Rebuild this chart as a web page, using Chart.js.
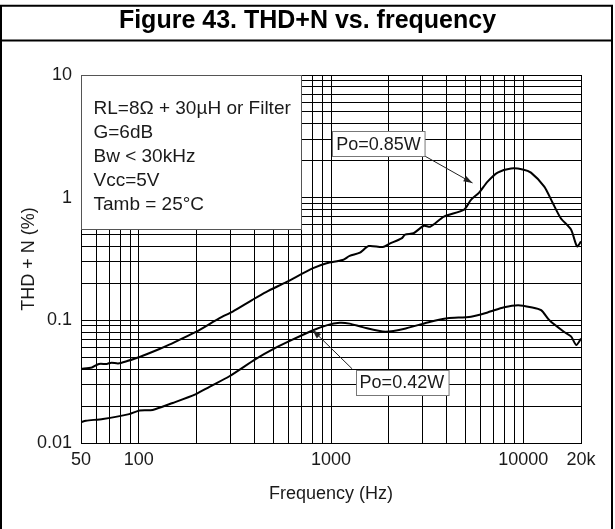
<!DOCTYPE html>
<html>
<head>
<meta charset="utf-8">
<script src="https://cdn.jsdelivr.net/npm/chart.js@4.4.0/dist/chart.umd.min.js"></script>
<style>
  html, body { margin: 0; padding: 0; background: #fff; }
  #wrap { width: 615px; height: 529px; }
</style>
</head>
<body>
<div id="wrap"><canvas id="chart" width="615" height="529"></canvas></div>
<script>
// Po = 0.85W curve
const freqHi = [50, 57, 62, 68, 72, 78, 87, 101, 128, 144, 197, 263, 308, 390, 459, 585, 807, 948,
  1150, 1250, 1415, 1570, 1860, 2020, 2330, 2430, 2690, 3040, 3290, 3870, 4930, 5350, 5900, 6530,
  7360, 8650, 9950, 10980, 12880, 14230, 15700, 17740, 19080, 20000];
const thdHi = [0.0402, 0.0413, 0.0441, 0.0441, 0.0452, 0.0445, 0.0466, 0.0503, 0.0584, 0.0634, 0.080,
  0.104, 0.118, 0.147, 0.170, 0.205, 0.266, 0.292, 0.31, 0.335, 0.356, 0.403, 0.396, 0.422, 0.465,
  0.50, 0.513, 0.59, 0.58, 0.70, 0.80, 0.96, 1.10, 1.35, 1.60, 1.73, 1.70, 1.60, 1.23, 0.91, 0.68,
  0.55, 0.40, 0.44];

// Po = 0.42W curve
const freqLo = [50, 53, 65, 89, 101, 118, 150, 197, 233, 296, 405, 497, 630, 807, 948, 1110, 1250,
  1460, 1920, 2470, 3290, 4040, 5350, 6530, 7960, 9420, 10980, 12400, 13700, 16230, 17740, 18900, 20000];
const thdLo = [0.0148, 0.0152, 0.0157, 0.0172, 0.0184, 0.0186, 0.0212, 0.0249, 0.0287, 0.035, 0.0483,
  0.058, 0.0695, 0.083, 0.091, 0.0955, 0.094, 0.088, 0.0808, 0.0862, 0.0975, 0.104, 0.107, 0.116,
  0.128, 0.133, 0.128, 0.121, 0.100, 0.081, 0.074, 0.063, 0.071];

const xTickValues = [50, 100, 1000, 10000, 20000];
const xTickLabels = ['50', '100', '1000', '10000', '20k'];
const yTickValues = [0.01, 0.1, 1, 10];
const yTickLabels = ['0.01', '0.1', '1', '10'];

const conditions = ['RL=8\u03A9 + 30\u00B5H or Filter', 'G=6dB', 'Bw < 30kHz', 'Vcc=5V', 'Tamb = 25\u00B0C'];

// minor log grid lines
function logGrid(from, to) {
  const out = [];
  for (let d = from; d < to * 0.999; d *= 10) {
    for (let k = 1; k < 10; k++) out.push(+(k * d).toPrecision(6));
  }
  out.push(to);
  return out;
}
const xGrid = logGrid(10, 10000).filter(v => v >= 50).concat([20000]).filter((v, i, a) => a.indexOf(v) === i);
const yGrid = logGrid(0.01, 10);

function pick(values, labels) {
  return v => {
    const i = values.findIndex(t => Math.abs(t - v) / t < 1e-6);
    return i < 0 ? '' : labels[i];
  };
}

const FONT = "'Liberation Sans', Arial, Helvetica, sans-serif";
const INK = '#1a1a1a';

// label boxes and arrows, in data units
const notes = [
  { text: 'Po=0.85W', at: [1767, 2.74], from: [3067, 2.19], tip: [5450, 1.318] },
  { text: 'Po=0.42W', at: [2338, 0.0312], from: [1289, 0.0402], tip: [801, 0.0835] }
];

const framePlugin = {
  id: 'frame',
  beforeDraw(chart) {
    const c = chart.ctx;
    c.save();
    c.fillStyle = '#fff';
    c.fillRect(0, 0, chart.width, chart.height);
    c.strokeStyle = '#000';
    c.lineWidth = 2;
    c.beginPath();
    c.moveTo(1, chart.height); c.lineTo(1, 5.7); c.lineTo(612, 5.7); c.lineTo(612, chart.height);
    c.moveTo(1, 40.5); c.lineTo(612, 40.5);
    c.stroke();
    c.restore();
  },
  afterDraw(chart) {
    const c = chart.ctx;
    const xs = chart.scales.x, ys = chart.scales.y, area = chart.chartArea;
    c.save();
    // conditions box
    const bl = area.left + 0.5, bt = area.top + 0.5;
    const br = Math.round(xs.getPixelForValue(700)) + 0.5;
    const bb = Math.round(ys.getPixelForValue(0.556)) + 0.5;
    c.fillStyle = '#fff';
    c.fillRect(bl, bt, br - bl, bb - bt);
    c.strokeStyle = '#555';
    c.lineWidth = 1;
    c.strokeRect(bl, bt, br - bl, bb - bt);
    c.fillStyle = INK;
    c.font = '19px ' + FONT;
    c.textAlign = 'left';
    c.textBaseline = 'alphabetic';
    conditions.forEach((t, i) => c.fillText(t, bl + 12, bt + 38 + i * 24.2));

    // callouts
    c.font = '18px ' + FONT;
    notes.forEach(n => {
      const fx = xs.getPixelForValue(n.from[0]), fy = ys.getPixelForValue(n.from[1]);
      const tx = xs.getPixelForValue(n.tip[0]), ty = ys.getPixelForValue(n.tip[1]);
      c.strokeStyle = '#222';
      c.lineWidth = 1;
      c.beginPath(); c.moveTo(fx, fy); c.lineTo(tx, ty); c.stroke();
      const a = Math.atan2(ty - fy, tx - fx);
      c.fillStyle = '#222';
      c.beginPath();
      c.moveTo(tx, ty);
      c.lineTo(tx - 9 * Math.cos(a) + 3 * Math.sin(a), ty - 9 * Math.sin(a) - 3 * Math.cos(a));
      c.lineTo(tx - 9 * Math.cos(a) - 3 * Math.sin(a), ty - 9 * Math.sin(a) + 3 * Math.cos(a));
      c.closePath(); c.fill();

      const cx = xs.getPixelForValue(n.at[0]), cy = ys.getPixelForValue(n.at[1]);
      const w = c.measureText(n.text).width + 8, h = 25;
      const x0 = Math.round(cx - w / 2) + 0.5, y0 = Math.round(cy - h / 2) + 0.5;
      c.fillStyle = '#fff';
      c.fillRect(x0, y0, w, h);
      c.strokeStyle = '#777';
      c.strokeRect(x0, y0, w, h);
      c.fillStyle = INK;
      c.textAlign = 'center';
      c.textBaseline = 'middle';
      c.fillText(n.text, cx, cy + 1);
    });
    c.restore();
  }
};

const toPoints = (xs, ys) => xs.map((x, i) => ({ x: x, y: ys[i] }));

new Chart(document.getElementById('chart'), {
  type: 'line',
  data: {
    datasets: [
      { label: 'Po=0.85W', data: toPoints(freqHi, thdHi), borderColor: '#000', borderWidth: 2,
        pointRadius: 0, tension: 0.25, fill: false },
      { label: 'Po=0.42W', data: toPoints(freqLo, thdLo), borderColor: '#000', borderWidth: 2,
        pointRadius: 0, tension: 0.25, fill: false }
    ]
  },
  options: {
    responsive: false,
    animation: false,
    layout: { padding: { left: 0, right: 0, top: 0, bottom: 0 } },
    plugins: {
      legend: { display: false },
      tooltip: { enabled: false },
      title: {
        display: true,
        text: 'Figure 43. THD+N vs. frequency',
        color: '#000',
        font: { family: FONT, size: 25, weight: 'bold', lineHeight: 1.2 },
        padding: { top: 6, bottom: 39 }
      }
    },
    scales: {
      x: {
        type: 'logarithmic',
        min: 50,
        max: 20000,
        afterBuildTicks: s => { s.ticks = xGrid.map(v => ({ value: v })); },
        afterFit: s => { s.height = 86; },
        grid: { color: '#000', lineWidth: 1, drawTicks: false },
        border: { color: '#000', width: 1 },
        ticks: { autoSkip: false, maxRotation: 0, padding: 6, color: INK,
          font: { family: FONT, size: 18 }, callback: pick(xTickValues, xTickLabels) },
        title: { display: true, text: 'Frequency (Hz)', color: INK,
          font: { family: FONT, size: 18 }, padding: { top: 0, bottom: 24 } }
      },
      y: {
        type: 'logarithmic',
        min: 0.01,
        max: 10,
        afterBuildTicks: s => { s.ticks = yGrid.map(v => ({ value: v })); },
        afterFit: s => { s.width = 81; },
        grid: { color: '#000', lineWidth: 1, drawTicks: false },
        border: { color: '#000', width: 1 },
        ticks: { autoSkip: false, padding: 9, color: INK,
          font: { family: FONT, size: 18 }, callback: pick(yTickValues, yTickLabels) },
        title: { display: true, text: 'THD + N (%)', color: INK,
          font: { family: FONT, size: 18 }, padding: { top: 18, bottom: 0 } }
      },
      // empty right-hand strip so the plot ends where the reference's does
      spacer: {
        type: 'linear',
        position: 'right',
        display: true,
        afterFit: s => { s.width = 34; },
        grid: { display: false, drawTicks: false },
        border: { display: false },
        ticks: { display: false }
      }
    }
  },
  plugins: [framePlugin]
});
</script>
</body>
</html>
